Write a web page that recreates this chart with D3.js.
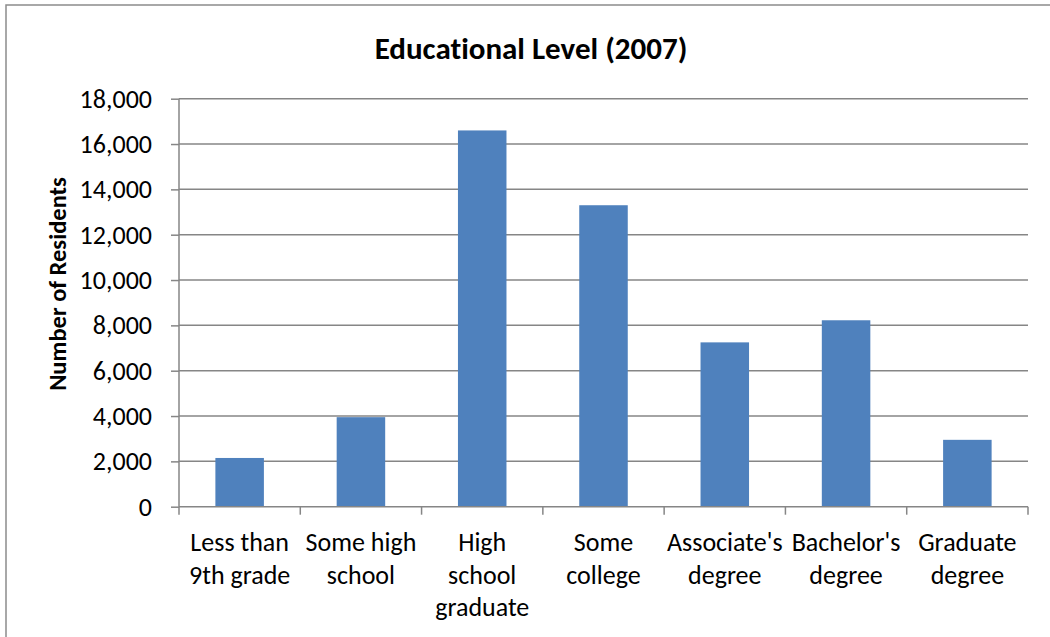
<!DOCTYPE html>
<html>
<head>
<meta charset="utf-8">
<script src="https://cdn.jsdelivr.net/npm/d3@7"></script>
<style>
  html, body { margin: 0; padding: 0; background: #fff; }
  svg { display: block; }
  text { font-family: Carlito, Lato, "Liberation Sans", sans-serif; fill: #000; font-variant-ligatures: none; }
</style>
</head>
<body>
<svg id="chart" width="1050" height="637"></svg>
<script>
// Educational attainment counts, 2007
const categories = [
  "Less than\n9th grade",
  "Some high\nschool",
  "High\nschool\ngraduate",
  "Some\ncollege",
  "Associate's\ndegree",
  "Bachelor's\ndegree",
  "Graduate\ndegree"
];
const residents = [2150, 3950, 16600, 13300, 7250, 8225, 2950];
const yTicks = [0, 2000, 4000, 6000, 8000, 10000, 12000, 14000, 16000, 18000];
const chartTitle = "Educational Level (2007)";
const yTitle = "Number of Residents";

const svg = d3.select("#chart");
const plot = { left: 179, right: 1028, top: 98.7, bottom: 506.7 };
const gridColor = "#868686";
const barColor = "#4F81BD";
const fontStack = "Carlito, Lato, 'Liberation Sans', sans-serif";

// outer chart frame
svg.append("rect")
  .attr("x", 6).attr("y", 5)
  .attr("width", 1100).attr("height", 700)
  .attr("fill", "none").attr("stroke", "#8c8c8c").attr("stroke-width", 1.5);

const x = d3.scaleBand()
  .domain(categories)
  .range([plot.left, plot.right])
  .paddingInner(0.6)
  .paddingOuter(0.3);

const y = d3.scaleLinear()
  .domain([0, 18000])
  .range([plot.bottom, plot.top]);

// horizontal gridlines
svg.append("g")
  .selectAll("line")
  .data(yTicks.filter(d => d > 0))
  .join("line")
  .attr("x1", plot.left).attr("x2", plot.right)
  .attr("y1", d => y(d)).attr("y2", d => y(d))
  .attr("stroke", gridColor).attr("stroke-width", 1.5);

// bars
svg.append("g")
  .selectAll("rect")
  .data(residents)
  .join("rect")
  .attr("x", (d, i) => x(categories[i]))
  .attr("y", d => y(d))
  .attr("width", x.bandwidth())
  .attr("height", d => y(0) - y(d))
  .attr("fill", barColor);

// y axis
const fmt = d3.format(",");
const yAxis = svg.append("g")
  .attr("transform", `translate(${plot.left},0)`)
  .call(d3.axisLeft(y).tickValues(yTicks).tickFormat(fmt).tickSize(8).tickPadding(19));
yAxis.select(".domain").attr("stroke", gridColor).attr("stroke-width", 1.5).attr("d", `M0,${plot.top}V${plot.bottom}`);
yAxis.selectAll(".tick line").attr("stroke", gridColor).attr("stroke-width", 1.5);
yAxis.selectAll(".tick text")
  .style("font-family", fontStack)
  .style("font-variant-ligatures", "none")
  .attr("font-size", 26).attr("fill", "#000");

// x axis with category boundary ticks
const xAxisG = svg.append("g");
xAxisG.append("line")
  .attr("x1", plot.left).attr("x2", plot.right)
  .attr("y1", plot.bottom).attr("y2", plot.bottom)
  .attr("stroke", gridColor).attr("stroke-width", 1.5);
const edges = d3.range(categories.length + 1)
  .map(i => plot.left + i * x.step() - (i === 0 ? 0 : 0) + (x(categories[0]) - plot.left - x.paddingOuter() * x.step()));
xAxisG.selectAll("line.tick")
  .data(edges)
  .join("line")
  .attr("class", "tick")
  .attr("x1", d => d).attr("x2", d => d)
  .attr("y1", plot.bottom).attr("y2", plot.bottom + 8)
  .attr("stroke", gridColor).attr("stroke-width", 1.5);

const labels = xAxisG.selectAll("text")
  .data(categories)
  .join("text")
  .attr("text-anchor", "middle")
  .attr("font-size", 26)
  .attr("transform", d => `translate(${x(d) + x.bandwidth() / 2},551)`);
labels.selectAll("tspan")
  .data(d => d.split("\n"))
  .join("tspan")
  .attr("x", 0)
  .attr("y", (d, i) => i * 32.5)
  .text(d => d);

// titles
svg.append("text")
  .attr("x", 531).attr("y", 59)
  .attr("text-anchor", "middle")
  .attr("font-size", 31).attr("font-weight", "bold")
  .text(chartTitle);

svg.append("text")
  .attr("transform", "translate(66,284) rotate(-90)")
  .attr("text-anchor", "middle")
  .attr("font-size", 24.5).attr("font-weight", "bold")
  .text(yTitle);
</script>
</body>
</html>
